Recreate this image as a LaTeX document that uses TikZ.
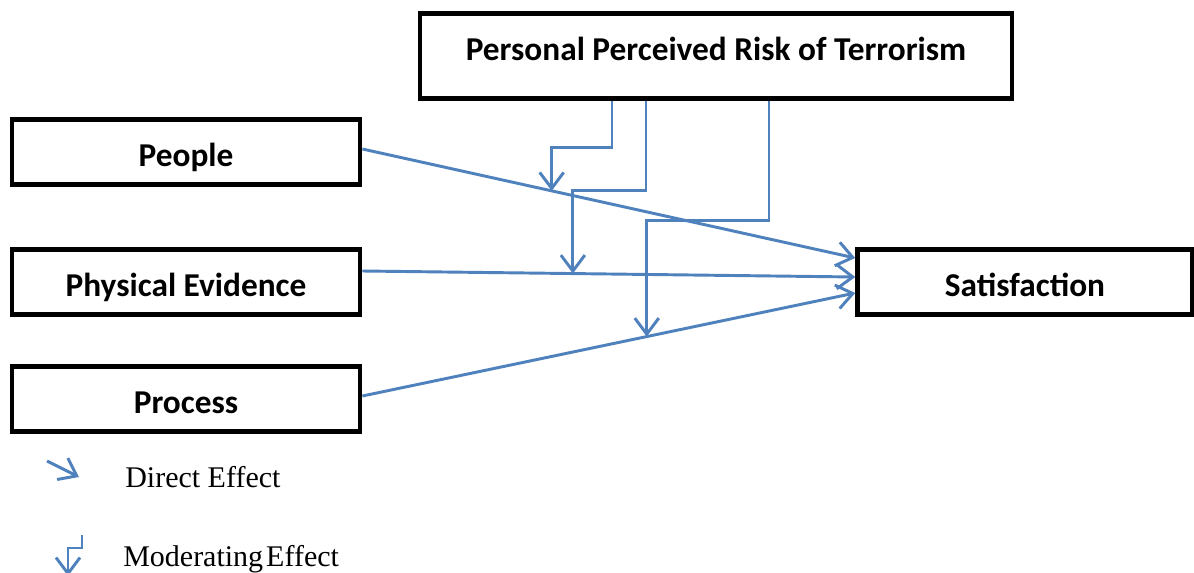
\documentclass[tikz,border=0pt]{standalone}
\usepackage{fontspec}
\setmainfont{Liberation Serif}
\newfontfamily\boxfont{Carlito}
\usepackage{tikz}
\usetikzlibrary{arrows.meta, positioning, calc}
\definecolor{linkblue}{RGB}{79,129,189}

\tikzset{
    factor/.style={draw, line width=3.6pt, minimum width=261pt, minimum height=49pt,
        inner sep=0pt, text height=22pt, text depth=0pt, font=\boxfont\bfseries\fontsize{25}{29}\selectfont},
    direct/.style={draw=linkblue, line width=2.2pt, -{Straight Barb[length=12pt, width=18pt, line width=2.2pt]}},
    mod/.style={direct},
    legend/.style={anchor=base west, inner sep=0pt, font=\fontsize{22.5}{26}\selectfont}
}

\begin{document}
\begin{tikzpicture}[x=0.75pt, y=-0.75pt]
        \useasboundingbox (0,0) rectangle (1194,573);
        \node[factor, minimum width=444pt, minimum height=64pt, text depth=15pt] (risk) at (716,56) {Personal Perceived Risk of Terrorism};
        \node[factor] (people) at (186,152) {People};
        \node[factor] (physical) at (186,282) {Physical Evidence};
        \node[factor] (process) at (186,399) {Process};
        \node[factor, minimum width=251pt] (satisf) at (1025,282) {Satisfaction};

        % ends of the direct effects
        \coordinate (s1) at ($(satisf.west)+(0,-24)$);
        \coordinate (s2) at ($(satisf.west)+(0,-5)$);
        \coordinate (s3) at ($(satisf.west)+(0,11)$);
        \coordinate (p1) at ($(people.east)+(0,-3)$);
        \coordinate (p2) at ($(physical.east)+(0,-11)$);
        \coordinate (p3) at ($(process.east)+(0,-3)$);
        \draw[direct] (p1) -- (s1);
        \draw[direct] (p2) -- (s2);
        \draw[direct] (p3) -- (s3);

        % moderating effects
        \coordinate (m1) at ($(p1)!0.384!(s1)$);
        \coordinate (m2) at ($(p2)!0.427!(s2)$);
        \coordinate (m3) at ($(p3)!0.577!(s3)$);
        \draw[mod] ($(risk.south)+(-104,0)$) -- ++(0,46) -| (m1);
        \draw[mod] ($(risk.south)+(-70,0)$) -- ++(0,89) -| (m2);
        \draw[mod] ($(risk.south)+(53,0)$) -- ++(0,119) -| (m3);

        % legend
        \coordinate (d0) at (47,461);
        \coordinate (d1) at (79,477);
        \draw[direct] (d0) -- (d1);
        \node[legend] (dtext) at (125,487) {Direct Effect};
        \coordinate (l0) at (82,535);
        \coordinate (l1) at (68,576);
        \draw[mod] (l0) -- ++(0,13) -| (l1);
        \node[legend] (mtext) at (123,566) {Moderating\hspace{0.1em}Effect};
\end{tikzpicture}
\end{document}
